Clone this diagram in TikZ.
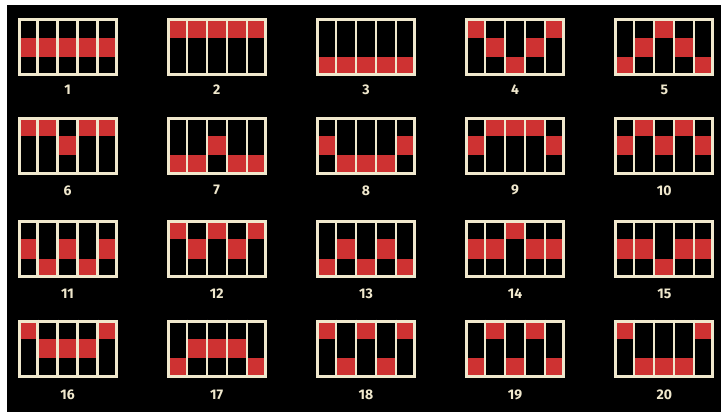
\documentclass[tikz,border=0pt]{standalone}
\usepackage{fontspec}
\setmainfont{Fira Sans}
\definecolor{cream}{RGB}{240,232,205}
\definecolor{pred}{RGB}{206,50,50}
\begin{document}
\begin{tikzpicture}[x=1pt,y=-1pt,
  lab/.style={text=cream,font=\bfseries\fontsize{14}{16}\selectfont,inner sep=0pt},
  cell/.style={fill=pred},
  divider/.style={draw=cream,line width=2.2pt},
  frame/.style={draw=cream,line width=3pt}]
\useasboundingbox (0,0) rectangle (721,412);
\fill[white] (0,0) rectangle (721,412);
\fill[black] (7,5) rectangle (721,412);
\foreach \n/\pa/\pb/\pc/\pd/\pe in {
  1/1/1/1/1/1, 2/0/0/0/0/0, 3/2/2/2/2/2, 4/0/1/2/1/0, 5/2/1/0/1/2,
  6/0/0/1/0/0, 7/2/2/1/2/2, 8/1/2/2/2/1, 9/1/0/0/0/1, 10/1/0/1/0/1,
  11/1/2/1/2/1, 12/0/1/0/1/0, 13/2/1/2/1/2, 14/1/1/0/1/1, 15/1/1/2/1/1,
  16/0/1/1/1/0, 17/2/1/1/1/2, 18/0/2/0/2/0, 19/2/0/2/0/2, 20/0/2/2/2/0} {
  \pgfmathsetmacro\col{int(mod(\n-1,5))}
  \pgfmathsetmacro\row{int((\n-1)/5)}
  \pgfmathsetmacro\xo{17.5+149.2*\col}
  \pgfmathsetmacro\yo{{18.3,116.8,220,319.5}[\row]}
  \pgfmathsetmacro\ly{{90,190.3,293.8,395}[\row]}
  \foreach \k/\r in {0/\pa,1/\pb,2/\pc,3/\pd,4/\pe} {
    \fill[cell] (\xo+20*\k,\yo+58/3*\r) rectangle ++(20,58/3);
  }
  \foreach \k in {1,...,4} {
    \draw[divider] (\xo+20*\k,\yo) -- ++(0,58);
  }
  \draw[frame] (\xo+1.5,\yo+1.5) rectangle (\xo+98.5,\yo+56.5);
  \node[lab] (lab\n) at (\xo+50,\ly) {\n};
}
\end{tikzpicture}
\end{document}
